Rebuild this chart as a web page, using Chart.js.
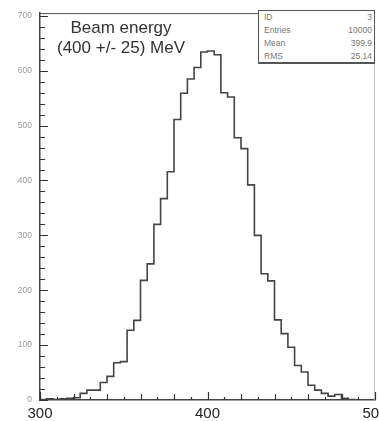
<!DOCTYPE html>
<html>
<head>
<meta charset="utf-8">
<script src="https://cdn.jsdelivr.net/npm/chart.js@4"></script>
<style>
  body { margin: 0; background: #fff; }
  #wrap { position: relative; width: 379px; height: 421px; overflow: hidden; }
  #title { position: absolute; left: 40px; top: 18px; width: 162px; text-align: center;
           font: 17px "Liberation Sans", Arial, sans-serif; color: #333; line-height: 20px; }
  #stats { position: absolute; left: 258px; top: 10px; width: 115px; height: 51px;
           border: 1px solid #555; border-bottom-width: 2px; background: #fff;
           font: 8.5px "Liberation Sans", Arial, sans-serif; color: #777; }
  #stats div { display: flex; justify-content: space-between; padding: 0 2px 0 5px; height: 13px; line-height: 13px; }
</style>
</head>
<body>
<div id="wrap">
  <canvas id="graphique" width="379" height="421"></canvas>
  <div id="title">Beam energy<br>(400 +/- 25) MeV</div>
  <div id="stats">
    <div><span>ID</span><span>3</span></div>
    <div><span>Entries</span><span>10000</span></div>
    <div><span>Mean</span><span>399.9</span></div>
    <div><span>RMS</span><span>25.14</span></div>
  </div>
</div>
<script>
// histogram: 50 bins of 4 MeV from 300 to 500
const binLow = 300;
const binWidth = 4;
const counts = [
    1, 2, 1, 2, 3, 4, 12, 18, 18, 32,
    43, 68, 70, 127, 145, 218, 248, 320, 367, 416,
    511, 559, 585, 606, 634, 636, 629, 560, 552, 478,
    458, 392, 300, 230, 217, 146, 121, 96, 63, 51,
    27, 18, 12, 7, 10, 3, 1, 0, 0, 0
];
const xTicks = [300, 400, 500];
const yTicks = [0, 100, 200, 300, 400, 500, 600, 700];

const points = [];
for (let i = 0; i < counts.length; i++) {
    points.push({x: binLow + i * binWidth, y: counts[i]});
}
points.push({x: binLow + counts.length * binWidth, y: counts[counts.length - 1]});

// frame and ticks drawn inside, ROOT style
const insideTicks = {
    id: "insideTicks",
    afterDatasetsDraw(chart) {
        const ctx = chart.ctx;
        const a = chart.chartArea;
        const xs = chart.scales.x;
        const ys = chart.scales.y;
        ctx.save();
        ctx.lineWidth = 1;
        ctx.strokeStyle = "#ccc";
        ctx.beginPath();
        ctx.moveTo(a.right - 0.5, a.top);
        ctx.lineTo(a.right - 0.5, a.bottom);
        ctx.stroke();
        ctx.strokeStyle = "#555";
        ctx.beginPath();
        ctx.moveTo(a.left, a.top + 0.5);
        ctx.lineTo(a.right, a.top + 0.5);
        ctx.stroke();
        ctx.lineWidth = 1.2;
        ctx.strokeStyle = "#333";
        ctx.beginPath();
        for (let v = 0; v <= 700; v += 20) {
            const y = Math.round(ys.getPixelForValue(v)) + 0.5;
            const len = v % 100 === 0 ? 8 : 5;
            ctx.moveTo(a.left, y);
            ctx.lineTo(a.left + len, y);
        }
        for (let v = 300; v <= 500; v += 10) {
            const x = Math.round(xs.getPixelForValue(v)) + 0.5;
            const len = v % 100 === 0 ? 8 : (v % 20 === 0 ? 6 : 3);
            ctx.moveTo(x, a.bottom);
            ctx.lineTo(x, a.bottom - len);
        }
        ctx.stroke();
        ctx.restore();
    }
};

const config = {
    type: "line",
    data: {
        datasets: [{
            data: points,
            stepped: "before",
            borderColor: "#444",
            borderWidth: 1.6,
            pointRadius: 0,
            fill: false
        }]
    },
    options: {
        responsive: false,
        animation: false,
        layout: {
            padding: {top: 10, right: 4, left: 0, bottom: 0}
        },
        scales: {
            x: {
                type: "linear",
                min: 300,
                max: 500,
                afterBuildTicks: (s) => { s.ticks = xTicks.map(v => ({value: v})); },
                afterFit: (s) => { s.height = 21; s.paddingLeft = 0; s.paddingRight = 0; },
                grid: {drawOnChartArea: false, drawTicks: false},
                border: {color: "#444", width: 1.5},
                ticks: {
                    autoSkip: false,
                    maxRotation: 0,
                    padding: 5,
                    color: "#222",
                    font: {family: "Liberation Sans", size: 15}
                }
            },
            y: {
                min: 0,
                max: 705,
                afterBuildTicks: (s) => { s.ticks = yTicks.map(v => ({value: v})); },
                afterFit: (s) => { s.width = 40; },
                grid: {drawOnChartArea: false, drawTicks: false},
                border: {color: "#444", width: 1.5},
                ticks: {
                    padding: 8,
                    color: "#999",
                    font: {family: "Liberation Sans", size: 8.5}
                }
            }
        },
        plugins: {
            legend: {display: false},
            tooltip: {enabled: false}
        }
    },
    plugins: [insideTicks]
};

const chart1 = new Chart(document.querySelector("#graphique"), config);
</script>
</body>
</html>
